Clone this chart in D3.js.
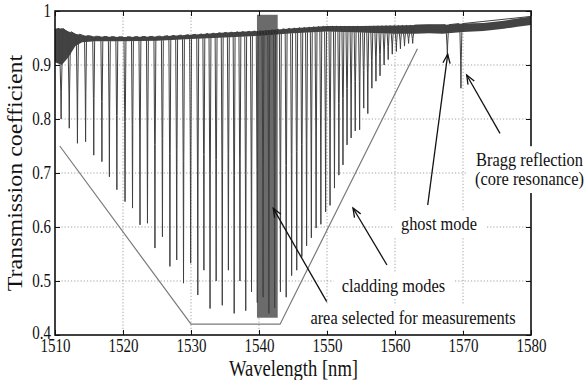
<!DOCTYPE html>
<html><head><meta charset="utf-8">
<script src="https://cdn.jsdelivr.net/npm/d3@7"></script>
<style>
html,body{margin:0;padding:0;background:#fff;}
svg{display:block;}
</style></head><body>
<svg id="chart" width="587" height="380"></svg>
<script>
// Axis ticks
const xTicks = [1510, 1520, 1530, 1540, 1550, 1560, 1570, 1580];
const yTicks = [0.4, 0.5, 0.6, 0.7, 0.8, 0.9, 1.0];
const yTickLabels = ["0.4", "0.5", "0.6", "0.7", "0.8", "0.9", "1"];

// Cladding-mode resonances: centre wavelength (nm) and minimum transmission
const dipWl = [1510.9, 1512.1, 1513.3, 1514.5, 1515.7, 1516.9, 1518.0, 1519.1, 1520.3, 1521.4,
  1522.5, 1523.6, 1524.7, 1525.8, 1526.9, 1527.9, 1528.9, 1529.95, 1531.0, 1531.9,
  1532.8, 1533.7, 1534.6, 1535.5, 1536.35, 1537.2, 1538.05, 1538.9, 1539.75, 1540.6,
  1541.45, 1542.3, 1543.15, 1544.0, 1544.8, 1545.55, 1546.3, 1547.0, 1547.7, 1548.4,
  1549.1, 1549.8, 1550.45, 1551.1, 1551.75, 1552.35, 1552.95, 1553.55, 1554.15, 1554.8,
  1555.4, 1556.0, 1556.6, 1557.2, 1557.8, 1558.4, 1559.0, 1559.6, 1560.2, 1560.8,
  1561.4, 1562.0, 1562.6];
const dipMin = [0.800, 0.783, 0.755, 0.758, 0.733, 0.721, 0.693, 0.669, 0.647, 0.635,
  0.604, 0.607, 0.561, 0.582, 0.527, 0.539, 0.496, 0.533, 0.474, 0.520,
  0.449, 0.500, 0.455, 0.520, 0.440, 0.500, 0.445, 0.480, 0.460, 0.470,
  0.440, 0.450, 0.480, 0.470, 0.510, 0.520, 0.545, 0.565, 0.580, 0.598,
  0.605, 0.628, 0.640, 0.672, 0.696, 0.715, 0.752, 0.765, 0.778, 0.780,
  0.820, 0.810, 0.857, 0.870, 0.880, 0.900, 0.910, 0.920, 0.925, 0.930,
  0.935, 0.940, 0.940];

// Ghost mode and Bragg (core) resonance
const featureWl = [1567.7, 1569.7];
const featureMin = [0.915, 0.857];

// Upper noise band of the spectrum
const bandWl = [1510, 1511, 1512, 1513, 1514, 1516, 1520, 1525, 1530, 1535, 1540, 1545, 1550, 1555, 1560, 1563, 1565, 1567, 1570, 1573, 1576, 1578, 1580];
const bandHi = [0.966, 0.968, 0.962, 0.958, 0.955, 0.953, 0.952, 0.953, 0.956, 0.960, 0.963, 0.968, 0.972, 0.972, 0.973, 0.974, 0.975, 0.974, 0.977, 0.978, 0.982, 0.986, 0.990];
const bandLo = [0.905, 0.900, 0.915, 0.935, 0.942, 0.944, 0.944, 0.945, 0.948, 0.951, 0.954, 0.959, 0.962, 0.960, 0.958, 0.958, 0.959, 0.958, 0.961, 0.963, 0.967, 0.971, 0.974];

// Envelope of the cladding-mode comb
const envelopeWl = [1510.7, 1530, 1543.1, 1563.3];
const envelopeT = [0.75, 0.42, 0.42, 0.93];

// Band chosen for measurements
const selectedWl = [1539.7, 1542.75];
const selectedT = [0.432, 0.993];

// Annotations: label lines, anchor (nm, T), arrow tail and head (nm, T)
const notes = [
  {lines: ["Bragg reflection", "(core resonance)"], wl: 1579.78, t: 0.713, arrow: [[1575.44, 0.7735], [1570.54, 0.8815]]},
  {lines: ["ghost mode"], wl: 1566.47, t: 0.5944, arrow: [[1564.81, 0.6407], [1567.75, 0.9198]]},
  {lines: ["cladding modes"], wl: 1559.76, t: 0.4802, arrow: [[1558.82, 0.5296], [1553.82, 0.6352]]},
  {lines: ["area selected for measurements"], wl: 1562.65, t: 0.4204, arrow: [[1549.96, 0.4617], [1542.1, 0.6346]]}
];

const FONT = "'Liberation Serif', 'Times New Roman', Times, serif";
const L = 55, R = 531, T = 11, B = 335;
const STRETCH = 1.2;
const svg = d3.select("#chart");
const x = d3.scaleLinear().domain([1510, 1580]).range([L, R]);
const y = d3.scaleLinear().domain([0.4, 1.0]).range([B, T]);

// grid
const grid = svg.append("g").attr("stroke", "#8a8a8a").attr("stroke-width", 0.8).attr("stroke-dasharray", "1.2,2");
grid.selectAll(".gx").data(xTicks.slice(1, -1)).join("line")
  .attr("x1", d => x(d)).attr("x2", d => x(d)).attr("y1", T).attr("y2", B);
grid.selectAll(".gy").data(yTicks.slice(1, -1)).join("line")
  .attr("y1", d => y(d)).attr("y2", d => y(d)).attr("x1", L).attr("x2", R);

// selected band
svg.append("rect")
  .attr("x", x(selectedWl[0])).attr("width", x(selectedWl[1]) - x(selectedWl[0]))
  .attr("y", y(selectedT[1])).attr("height", y(selectedT[0]) - y(selectedT[1]))
  .attr("fill", "#6b6b6b");

// noise band
const hi = d3.scaleLinear().domain(bandWl).range(bandHi);
const lo = d3.scaleLinear().domain(bandWl).range(bandLo);
svg.append("path")
  .datum(bandWl)
  .attr("d", d3.area().x(d => x(d)).y0((d, i) => y(bandLo[i])).y1((d, i) => y(bandHi[i])))
  .attr("fill", "#222").attr("fill-opacity", 0.85);

// spectrum with resonance dips
const dips = dipWl.map((w, i) => [w, dipMin[i]])
  .concat(featureWl.map((w, i) => [w, featureMin[i]]))
  .sort((a, b) => a[0] - b[0]);
const pts = [[1510, hi(1510)]];
for (const [w, m] of dips) {
  const top = hi(w), knee = lo(w), half = (knee + m) / 2;
  pts.push([w - 0.3, top], [w - 0.15, knee], [w - 0.05, half], [w, m],
           [w + 0.04, half], [w + 0.13, knee], [w + 0.27, top]);
}
pts.push([1580, hi(1580)]);
svg.append("path")
  .datum(pts)
  .attr("d", d3.line().x(d => x(d[0])).y(d => y(d[1])))
  .attr("fill", "none").attr("stroke", "#404040").attr("stroke-width", 1);

// envelope outline
svg.append("path")
  .datum(envelopeWl.map((w, i) => [w, envelopeT[i]]))
  .attr("d", d3.line().x(d => x(d[0])).y(d => y(d[1])))
  .attr("fill", "none").attr("stroke", "#7a7a7a").attr("stroke-width", 1.2);

// axes (ticks on all four sides, pointing inward)
const fontSize = 15;
const styleLabels = (sel, tf) => sel.selectAll("text")
  .attr("x", null).attr("y", null).attr("dy", null)
  .attr("font-family", FONT).attr("fill", "#111")
  .attr("font-size", fontSize).attr("transform", tf);
svg.append("g").attr("transform", `translate(0,${B})`)
  .call(d3.axisBottom(x).tickValues(xTicks).tickSizeInner(-5).tickSizeOuter(0).tickFormat(d3.format("d")))
  .call(g => g.select(".domain").remove())
  .call(g => styleLabels(g, `translate(0,16.5) scale(1,${STRETCH})`));
svg.append("g").attr("transform", `translate(0,${T})`)
  .call(d3.axisTop(x).tickValues(xTicks).tickSizeInner(-5).tickSizeOuter(0).tickFormat(""))
  .call(g => g.select(".domain").remove());
svg.append("g").attr("transform", `translate(${L},0)`)
  .call(d3.axisLeft(y).tickValues(yTicks).tickSizeInner(-5).tickSizeOuter(0).tickFormat((d, i) => yTickLabels[i]))
  .call(g => g.select(".domain").remove())
  .call(g => styleLabels(g, (d, i) => `translate(-4,${i === 0 ? -2 : 0}) scale(1,${STRETCH})`).attr("dy", "0.33em"));
svg.append("g").attr("transform", `translate(${R},0)`)
  .call(d3.axisRight(y).tickValues(yTicks).tickSizeInner(-5).tickSizeOuter(0).tickFormat(""))
  .call(g => g.select(".domain").remove());
svg.selectAll(".tick line").attr("stroke", "#111");
svg.append("rect").attr("x", L).attr("y", T).attr("width", R - L).attr("height", B - T)
  .attr("fill", "none").attr("stroke", "#111").attr("stroke-width", 1.6);

// axis titles
svg.append("text").attr("text-anchor", "middle").attr("font-size", 18.6)
  .attr("font-family", FONT).attr("fill", "#111")
  .attr("transform", `translate(${(L + R) / 2 + 0.5},375.5) scale(1,${STRETCH})`)
  .text("Wavelength [nm]");
svg.append("text").attr("text-anchor", "middle").attr("font-size", 20)
  .attr("font-family", FONT).attr("fill", "#111")
  .attr("transform", `translate(22,${(T + B) / 2}) rotate(-90) scale(${STRETCH},1)`)
  .text("Transmission coefficient");

// annotations
const defs = svg.append("defs");
defs.append("marker").attr("id", "head").attr("viewBox", "-11 -5 13 10")
  .attr("refX", 0).attr("refY", 0).attr("markerWidth", 13).attr("markerHeight", 10)
  .attr("markerUnits", "userSpaceOnUse").attr("orient", "auto")
  .append("path").attr("d", "M-9,-3.6L0,0L-9,3.6").attr("fill", "none")
  .attr("stroke", "#111").attr("stroke-width", 1.3);

const noteFont = 16.4;
for (const n of notes) {
  const g = svg.append("g").attr("transform", `translate(${x(n.wl)},${y(n.t)}) scale(1,${STRETCH})`);
  const bg = g.append("rect").attr("fill", "#fff");
  const txt = g.append("text").attr("text-anchor", "middle")
    .attr("font-family", FONT).attr("fill", "#111").attr("font-size", noteFont);
  n.lines.forEach((s, i) => txt.append("tspan").attr("x", 0).attr("y", i * 16).text(s));
  const bb = txt.node().getBBox();
  bg.attr("x", bb.x - 8).attr("y", bb.y - 2).attr("width", bb.width + 16).attr("height", bb.height + 4);
}
for (const n of notes) {
  const [a, b] = n.arrow;
  svg.append("line")
    .attr("x1", x(a[0])).attr("y1", y(a[1])).attr("x2", x(b[0])).attr("y2", y(b[1]))
    .attr("stroke", "#111").attr("stroke-width", 1.3).attr("marker-end", "url(#head)");
}
</script>
</body></html>
